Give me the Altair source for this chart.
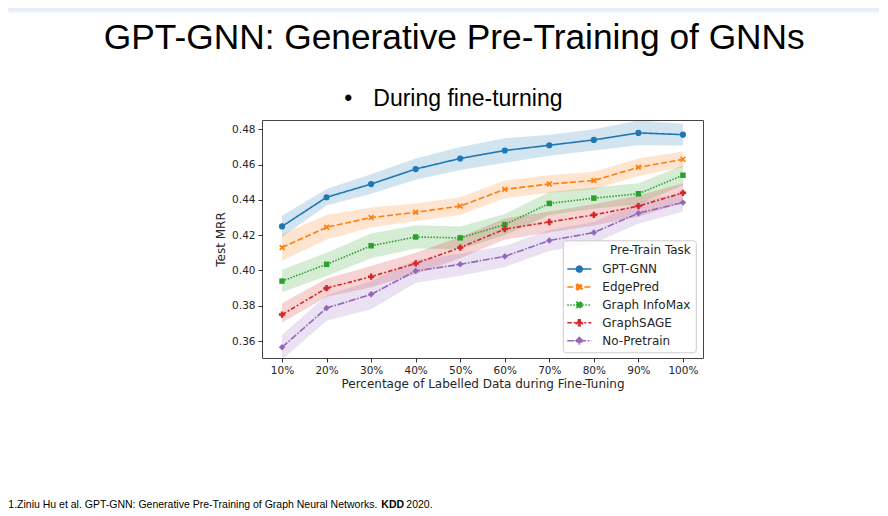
import altair as alt
import pandas as pd

# ---------------- data ----------------
pcts = ["10%", "20%", "30%", "40%", "50%", "60%", "70%", "80%", "90%", "100%"]
tasks = ["GPT-GNN", "EdgePred", "Graph InfoMax", "GraphSAGE", "No-Pretrain"]

gpt_val = [0.425, 0.4415, 0.449, 0.4575, 0.4635, 0.468, 0.471, 0.474, 0.478, 0.477]
gpt_lo = [0.419, 0.4368, 0.4435, 0.4515, 0.457, 0.461, 0.465, 0.468, 0.471, 0.4708]
gpt_hi = [0.431, 0.4462, 0.4545, 0.4635, 0.470, 0.475, 0.477, 0.480, 0.485, 0.4832]

edge_val = [0.413, 0.4245, 0.430, 0.433, 0.4365, 0.446, 0.449, 0.451, 0.4585, 0.463]
edge_lo = [0.4055, 0.4175, 0.4243, 0.428, 0.4315, 0.441, 0.444, 0.446, 0.4535, 0.4585]
edge_hi = [0.4205, 0.4315, 0.4357, 0.438, 0.4415, 0.451, 0.454, 0.456, 0.4635, 0.4675]

info_val = [0.394, 0.4035, 0.414, 0.419, 0.4185, 0.426, 0.438, 0.441, 0.4435, 0.454]
info_lo = [0.3876, 0.3969, 0.407, 0.4124, 0.412, 0.420, 0.4315, 0.435, 0.4375, 0.4483]
info_hi = [0.4004, 0.4101, 0.421, 0.4256, 0.425, 0.432, 0.4445, 0.447, 0.4495, 0.4597]

sage_val = [0.375, 0.390, 0.3965, 0.404, 0.413, 0.4235, 0.4275, 0.4315, 0.4365, 0.444]
sage_lo = [0.3705, 0.385, 0.3905, 0.398, 0.407, 0.4175, 0.4215, 0.4255, 0.4305, 0.4385]
sage_hi = [0.3815, 0.3955, 0.4025, 0.410, 0.419, 0.4295, 0.4335, 0.4375, 0.4425, 0.4495]

nop_val = [0.3565, 0.3787, 0.3865, 0.3997, 0.4035, 0.408, 0.417, 0.4215, 0.4325, 0.4385]
nop_lo = [0.3495, 0.3715, 0.378, 0.393, 0.397, 0.402, 0.411, 0.4155, 0.4265, 0.4335]
nop_hi = [0.3635, 0.386, 0.394, 0.406, 0.4095, 0.414, 0.423, 0.4275, 0.4385, 0.4445]

y_ticks = [0.36, 0.38, 0.40, 0.42, 0.44, 0.46, 0.48]

slide_title = "GPT-GNN: Generative Pre-Training of GNNs"
bullet_text = "During fine-turning"
cite_main = "1.Ziniu Hu et al. GPT-GNN: Generative Pre-Training of Graph Neural Networks."
cite_bold = "KDD"
cite_year = "2020."

# ---------------- styles ----------------
palette = ["#1f77b4", "#ff7f0e", "#2ca02c", "#d62728", "#9467bd"]
dashes = [[1, 0], [6, 2.5], [1.5, 1.5], [4.5, 2, 2, 2], [7, 1.6, 1.6, 1.6]]
x_path = "M-1,-0.6L-0.6,-1L0,-0.4L0.6,-1L1,-0.6L0.4,0L1,0.6L0.6,1L0,0.4L-0.6,1L-1,0.6L-0.4,0Z"
point_shapes = ["circle", x_path, "square", "cross", "diamond"]
point_sizes = [38, 36, 30, 40, 42]
legend_paths = [
    "M-2,0H2M-0.5,0A0.5,0.5 0 1,0 0.5,0A0.5,0.5 0 1,0 -0.5,0Z",
    "M-2,0H2M-0.5,-0.3L-0.3,-0.5L0,-0.2L0.3,-0.5L0.5,-0.3L0.2,0L0.5,0.3L0.3,0.5L0,0.2L-0.3,0.5L-0.5,0.3L-0.2,0Z",
    "M-2,0H2M-0.45,-0.45H0.45V0.45H-0.45Z",
    "M-2,0H2M-0.16,-0.5H0.16V-0.16H0.5V0.16H0.16V0.5H-0.16V0.16H-0.5V-0.16H-0.16Z",
    "M-2,0H2M0,-0.55L0.55,0L0,0.55L-0.55,0Z",
]

series = {
    "GPT-GNN": (gpt_val, gpt_lo, gpt_hi),
    "EdgePred": (edge_val, edge_lo, edge_hi),
    "Graph InfoMax": (info_val, info_lo, info_hi),
    "GraphSAGE": (sage_val, sage_lo, sage_hi),
    "No-Pretrain": (nop_val, nop_lo, nop_hi),
}
rows = []
for t in tasks:
    v, lo, hi = series[t]
    for p, a, b, c in zip(pcts, v, lo, hi):
        rows.append({"pct": p, "task": t, "val": a, "lo": b, "hi": c})
df = pd.DataFrame(rows)

AX_FONT = "DejaVu Sans"
TXT = "#262626"
W, H = 441, 238

x_enc = alt.X(
    "pct:O",
    sort=pcts,
    scale=alt.Scale(type="point", padding=0.45),
    axis=alt.Axis(
        title="Percentage of Labelled Data during Fine-Tuning",
        labelAngle=0, tickSize=4, labelPadding=3, titlePadding=3,
        domain=False, grid=False, tickColor="#333333", tickWidth=1,
        labelFont=AX_FONT, labelFontSize=10.5, labelColor=TXT,
        titleFont=AX_FONT, titleFontSize=12, titleFontWeight="normal", titleColor=TXT,
    ),
)
y_scale = alt.Scale(domain=[0.3504, 0.4853], nice=False, zero=False)
y_axis = alt.Axis(
    title="Test MRR", values=y_ticks, format=".2f",
    tickSize=4, labelPadding=3, titlePadding=4,
    domain=False, grid=False, tickColor="#333333", tickWidth=1,
    labelFont=AX_FONT, labelFontSize=10.5, labelColor=TXT,
    titleFont=AX_FONT, titleFontSize=12, titleFontWeight="normal", titleColor=TXT,
)
c_scale = alt.Scale(domain=tasks, range=palette)
d_scale = alt.Scale(domain=tasks, range=dashes)

# one legend definition shared by every channel, so that they merge into one box
leg = alt.Legend(
    title="Pre-Train Task", orient="none", legendX=300.8, legendY=120.3,
    padding=5, strokeColor="#cccccc", fillColor="rgba(255,255,255,0.8)", cornerRadius=3,
    titleFont=AX_FONT, titleFontSize=12, titleFontWeight="normal", titleColor=TXT,
    titleAnchor="end", titlePadding=4.8,
    labelFont=AX_FONT, labelFontSize=12, labelColor=TXT, labelOffset=16,
    symbolOffset=4.5, symbolSize=144, symbolStrokeWidth=1.5, rowPadding=4.9,
    symbolOpacity=1,
)
color_enc = alt.Color("task:N", scale=c_scale, legend=leg)

band = alt.Chart(df).mark_area(opacity=0.2, clip=True).encode(
    x=x_enc,
    y=alt.Y("lo:Q", scale=y_scale, axis=y_axis),
    y2="hi:Q",
    color=color_enc,
)

lines = alt.Chart(df).mark_line(strokeWidth=1.6, clip=True).encode(
    x=x_enc,
    y=alt.Y("val:Q", scale=y_scale, axis=y_axis),
    color=color_enc,
    strokeDash=alt.StrokeDash("task:N", scale=d_scale, legend=leg),
)

point_layers = []
for t, shp, sz in zip(tasks, point_shapes, point_sizes):
    point_layers.append(
        alt.Chart(df).transform_filter(alt.datum.task == t)
        .mark_point(filled=True, shape=shp, size=sz, opacity=1)
        .encode(
            x=x_enc,
            y=alt.Y("val:Q", scale=y_scale, axis=y_axis),
            color=color_enc,
        )
    )

# legend-only layer: gives the legend its "line + marker" symbols
legend_layer = alt.Chart(df).transform_filter("false").mark_point(
    filled=True, size=144, strokeWidth=1.5, opacity=1
).encode(
    color=color_enc,
    shape=alt.Shape("task:N", scale=alt.Scale(domain=tasks, range=legend_paths), legend=leg),
    strokeDash=alt.StrokeDash("task:N", scale=d_scale, legend=leg),
)

# ---------------- slide texts ----------------
PX0, PY0 = 261.7, 119.7  # plot origin on the page


def txt(s, px, py, size, font="Liberation Sans", align="left", weight="normal", color="#000000"):
    return alt.Chart(pd.DataFrame({"t": [s]})).mark_text(
        font=font, fontSize=size, align=align, baseline="alphabetic",
        fontWeight=weight, color=color,
    ).encode(text="t:N", x=alt.value(px - PX0), y=alt.value(py - PY0))


strip = alt.Chart(pd.DataFrame({"t": [0]})).mark_rect(
    fill={"gradient": "linear", "x1": 0, "x2": 0, "y1": 0, "y2": 1,
          "stops": [{"offset": 0, "color": "#dce7f9"}, {"offset": 1, "color": "#ffffff"}]}
).encode(x=alt.value(8 - PX0), x2=alt.value(880 - PX0), y=alt.value(8 - PY0), y2=alt.value(14 - PY0))

texts = [
    strip,
    txt(slide_title, 454, 48.5, 35.3, align="center"),
    txt("\u2022", 348, 105.5, 23, align="center"),
    txt(bullet_text, 373, 105.5, 23),
    txt(cite_main, 8, 507.5, 10.5),
    txt(cite_bold, 381, 507.5, 10.5, weight="bold"),
    txt(cite_year, 406, 507.5, 10.5),
]

chart = alt.layer(band, lines, *point_layers, legend_layer, *texts).properties(
    width=W, height=H,
    autosize=alt.AutoSizeParams(type="none"),
    padding={"left": 254, "top": 112, "right": 176, "bottom": 152},
    background="white",
).configure_view(stroke="#444444", strokeWidth=1)

chart.save("out.html", embed_options={"renderer": "svg", "actions": False})
